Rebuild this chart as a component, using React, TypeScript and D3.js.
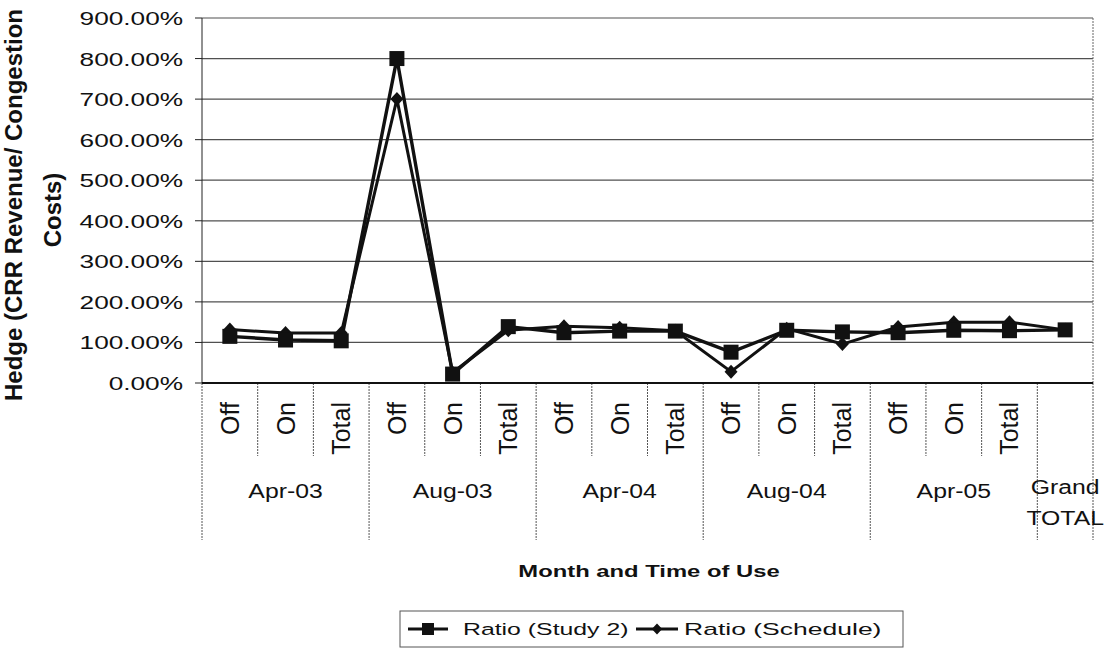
import React from "react";
import * as d3 from "d3";

// Hedge ratio by month and time-of-use period
const months = ["Apr-03", "Aug-03", "Apr-04", "Aug-04", "Apr-05"];
const periods = ["Off", "On", "Total"];
const grandLabel = ["Grand", "TOTAL"];
const study2 = [115, 106, 104, 800, 22, 139, 124, 128, 128, 76, 130, 126, 124, 130, 129, 131];
const schedule = [132, 123, 123, 700, 26, 130, 140, 136, 129, 28, 134, 96, 138, 150, 150, 131];
const yTicks = [0, 100, 200, 300, 400, 500, 600, 700, 800, 900];
const seriesNames = ["Ratio (Study 2)", "Ratio (Schedule)"];

const W = 1114;
const H = 652;
const FONT = "'Liberation Sans', Arial, Helvetica, sans-serif";
const plot = { left: 202, right: 1093, top: 18, bottom: 383 };

export default function App() {
  const n = study2.length;
  const x = d3.scaleBand<number>().domain(d3.range(n)).range([plot.left, plot.right]).padding(0);
  const bw = x.bandwidth();
  const cx = (i: number) => (x(i) as number) + bw / 2;
  const y = d3.scaleLinear().domain([0, 900]).range([plot.bottom, plot.top]);

  const line = d3
    .line<number>()
    .x((_, i) => cx(i))
    .y((d) => y(d));

  const fmt = (v: number) => v.toFixed(2) + "%";

  // category boundaries: every band edge plus the right end
  const edges = d3.range(n + 1).map((i) => (i < n ? (x(i) as number) : plot.right));

  const diamond = "M0,-7L6.5,0L0,7L-6.5,0Z";

  return (
    <svg width={W} height={H} style={{ display: "block", position: "absolute", left: 0, top: 0 }}>
      <rect x={0} y={0} width={W} height={H} fill="#fff" />

      {/* horizontal gridlines */}
      {yTicks.map((t) => (
        <line key={"g" + t} x1={plot.left} x2={plot.right} y1={y(t)} y2={y(t)} stroke="#505050" strokeWidth={1.2} />
      ))}
      {/* right border of plot area */}
      <line x1={plot.right} x2={plot.right} y1={plot.top} y2={plot.bottom} stroke="#666" strokeWidth={1} strokeDasharray="2,1" />
      {/* value axis */}
      <line x1={plot.left} x2={plot.left} y1={plot.top} y2={plot.bottom} stroke="#222" strokeWidth={1} />
      {yTicks.map((t) => (
        <line key={"t" + t} x1={plot.left - 7} x2={plot.left} y1={y(t)} y2={y(t)} stroke="#222" strokeWidth={1} />
      ))}
      {yTicks.map((t) => (
        <text
          key={"l" + t}
          transform={`translate(183,${y(t) + 7}) scale(1.38,1)`}
          textAnchor="end"
          fontFamily={FONT}
          fontSize={19}
          fill="#111"
        >
          {fmt(t)}
        </text>
      ))}

      {/* category axis separators */}
      {edges.map((ex, i) => {
        const long = i % 3 === 0 || i >= 15;
        return (
          <line
            key={"s" + i}
            x1={ex}
            x2={ex}
            y1={plot.bottom}
            y2={long ? 540 : 456}
            stroke="#555"
            strokeWidth={1}
            strokeDasharray="2,1"
          />
        );
      })}
      <line x1={plot.left} x2={plot.right} y1={plot.bottom} y2={plot.bottom} stroke="#111" strokeWidth={2} />

      {/* period labels */}
      {d3.range(15).map((i) => (
        <text
          key={"p" + i}
          transform={`translate(${cx(i) + 9},${plot.bottom + 19}) rotate(-90)`}
          textAnchor="end"
          fontFamily={FONT}
          fontSize={25}
          fill="#111"
        >
          {periods[i % 3]}
        </text>
      ))}
      {/* month labels */}
      {months.map((m, k) => {
        const mx = (edges[k * 3] + edges[k * 3 + 3]) / 2;
        return (
          <text
            key={"m" + m}
            transform={`translate(${mx},498) scale(1.18,1)`}
            textAnchor="middle"
            fontFamily={FONT}
            fontSize={21}
            fill="#111"
          >
            {m}
          </text>
        );
      })}
      {grandLabel.map((g, k) => (
        <text
          key={"gt" + k}
          transform={`translate(${cx(15)},${494 + k * 31}) scale(1.18,1)`}
          textAnchor="middle"
          fontFamily={FONT}
          fontSize={21}
          fill="#111"
        >
          {g}
        </text>
      ))}

      {/* axis titles */}
      <text
        transform={`translate(649,577) scale(1.4,1)`}
        textAnchor="middle"
        fontFamily={FONT}
        fontWeight="bold"
        fontSize={17}
        fill="#111"
      >
        Month and Time of Use
      </text>
      <text
        transform="translate(22,205) rotate(-90)"
        textAnchor="middle"
        fontFamily={FONT}
        fontWeight="bold"
        fontSize={24}
        fill="#111"
      >
        Hedge (CRR Revenue/ Congestion
      </text>
      <text
        transform="translate(61,210) rotate(-90)"
        textAnchor="middle"
        fontFamily={FONT}
        fontWeight="bold"
        fontSize={24}
        fill="#111"
      >
        Costs)
      </text>

      {/* series lines */}
      <path d={line(schedule) || ""} fill="none" stroke="#111" strokeWidth={3} strokeLinejoin="round" />
      <path d={line(study2) || ""} fill="none" stroke="#111" strokeWidth={3.4} strokeLinejoin="round" />
      {schedule.map((v, i) => (
        <path key={"d" + i} d={diamond} transform={`translate(${cx(i)},${y(v)})`} fill="#111" />
      ))}
      {study2.map((v, i) => (
        <rect key={"q" + i} x={cx(i) - 7.5} y={y(v) - 7.5} width={15} height={15} fill="#111" />
      ))}

      {/* legend */}
      <rect x={400} y={611} width={503} height={36} fill="#fff" stroke="#555" strokeWidth={1} />
      <line x1={408} x2={448} y1={629} y2={629} stroke="#111" strokeWidth={3} />
      <rect x={422} y={623} width={12} height={12} fill="#111" />
      <text transform="translate(463,635) scale(1.46,1)" fontFamily={FONT} fontSize={17} fill="#111">
        {seriesNames[0]}
      </text>
      <line x1={636} x2={678} y1={629} y2={629} stroke="#111" strokeWidth={3} />
      <path d={diamond} transform="translate(657,629) scale(0.8)" fill="#111" />
      <text transform="translate(684,635) scale(1.56,1)" fontFamily={FONT} fontSize={17} fill="#111">
        {seriesNames[1]}
      </text>
    </svg>
  );
}
